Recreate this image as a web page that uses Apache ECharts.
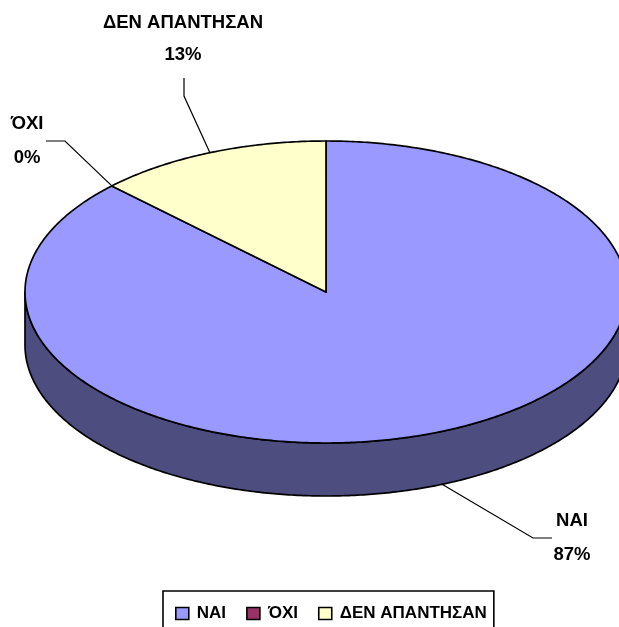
<!DOCTYPE html>
<html><head><meta charset="utf-8">
<style>html,body{margin:0;padding:0;background:#fff;overflow:hidden}#c{width:619px;height:627px}</style>
<script src="https://cdn.jsdelivr.net/npm/echarts@6/dist/echarts.min.js"></script>
</head><body><div id="c"></div>
<script>
const categories = ['ΝΑΙ', 'ΌΧΙ', 'ΔΕΝ ΑΠΑΝΤΗΣΑΝ'];
const values = [87.4, 0, 12.6];
const colors = ['#9999FF', '#993366', '#FFFFCC'];
const sideColors = ['#4D4D80', '#4D1A33', '#808066'];

const CX = 326, CY = 292, RX = 301, RY = 151, DEPTH = 53;
const LABEL_FONT = 'bold 18.5px "Liberation Sans", Arial, sans-serif';
const labelLayout = [
  {text: [572, 521, 572, 555], elbow: [533, 538], end: [552, 538]},
  {text: [27, 124, 27, 158], elbow: [65, 141], end: [46, 141]},
  {text: [183, 23, 183, 55], elbow: [184, 96], end: [184, 78]}
];
const total = values.reduce((a, b) => a + b, 0);
function startOf(i) { let s = 0; for (let k = 0; k < i; k++) s += values[k]; return s / total * Math.PI * 2; }
function pt(a, dy) { return [CX + RX * Math.sin(a), CY - RY * Math.cos(a) + (dy || 0)]; }
function arc(a0, a1, dy) {
  const n = Math.max(1, Math.ceil(Math.abs(a1 - a0) / 0.01)), out = [];
  for (let i = 0; i <= n; i++) out.push(pt(a0 + (a1 - a0) * i / n, dy));
  return out;
}
function makeRender(idx) {
  return function (params, api) {
    const v = api.value(0);
    const a0 = startOf(idx), a1 = a0 + v / total * Math.PI * 2, mid = (a0 + a1) / 2;
    const kids = [];
    const line = {stroke: '#000', lineWidth: 1.7, lineJoin: 'round'};
    // side wall: the part of the slice that faces the viewer
    const w0 = Math.max(a0, Math.PI / 2), w1 = Math.min(a1, Math.PI * 1.5);
    if (w1 > w0) {
      kids.push({type: 'polygon', shape: {points: arc(w0, w1, 0).concat(arc(w1, w0, DEPTH))},
        style: Object.assign({fill: sideColors[idx]}, line)});
    }
    if (v > 0) {
      kids.push({type: 'polygon', shape: {points: [[CX, CY]].concat(arc(a0, a1, 0))},
        style: Object.assign({fill: colors[idx]}, line)});
    }
    const L = labelLayout[idx];
    const front = mid > Math.PI / 2 && mid < Math.PI * 1.5;
    const anchor = pt(mid, front ? DEPTH : 0);
    kids.push({type: 'polyline', shape: {points: [anchor, L.elbow, L.end]},
      style: {stroke: '#000', lineWidth: 1.2, fill: null}});
    const pct = Math.round(v / total * 100) + '%';
    kids.push({type: 'text', style: {text: categories[idx], x: L.text[0], y: L.text[1], font: LABEL_FONT, fill: '#000', align: 'center', verticalAlign: 'middle'}});
    kids.push({type: 'text', style: {text: pct, x: L.text[2], y: L.text[3], font: LABEL_FONT, fill: '#000', align: 'center', verticalAlign: 'middle'}});
    return {type: 'group', children: kids};
  };
}
const chart = echarts.init(document.getElementById('c'), null, {renderer: 'canvas'});
chart.setOption({
  animation: false,
  backgroundColor: '#fff',
  legend: {
    left: 163, top: 591, orient: 'horizontal',
    data: categories,
    icon: 'rect', itemWidth: 13, itemHeight: 12, itemGap: 20,
    padding: [14, 7, 30, 12],
    borderColor: '#000', borderWidth: 1.6, backgroundColor: '#fff',
    itemStyle: {borderColor: '#000', borderWidth: 1.6},
    selectedMode: false,
    textStyle: {color: '#000', fontFamily: '"Liberation Sans", Arial, sans-serif', fontWeight: 'bold', fontSize: 17, padding: [0, 0, 0, 3]}
  },
  series: categories.map((name, i) => ({
    type: 'custom', name, coordinateSystem: 'none', silent: true,
    itemStyle: {color: colors[i]},
    renderItem: makeRender(i),
    data: [[values[i]]]
  }))
});
</script></body></html>
